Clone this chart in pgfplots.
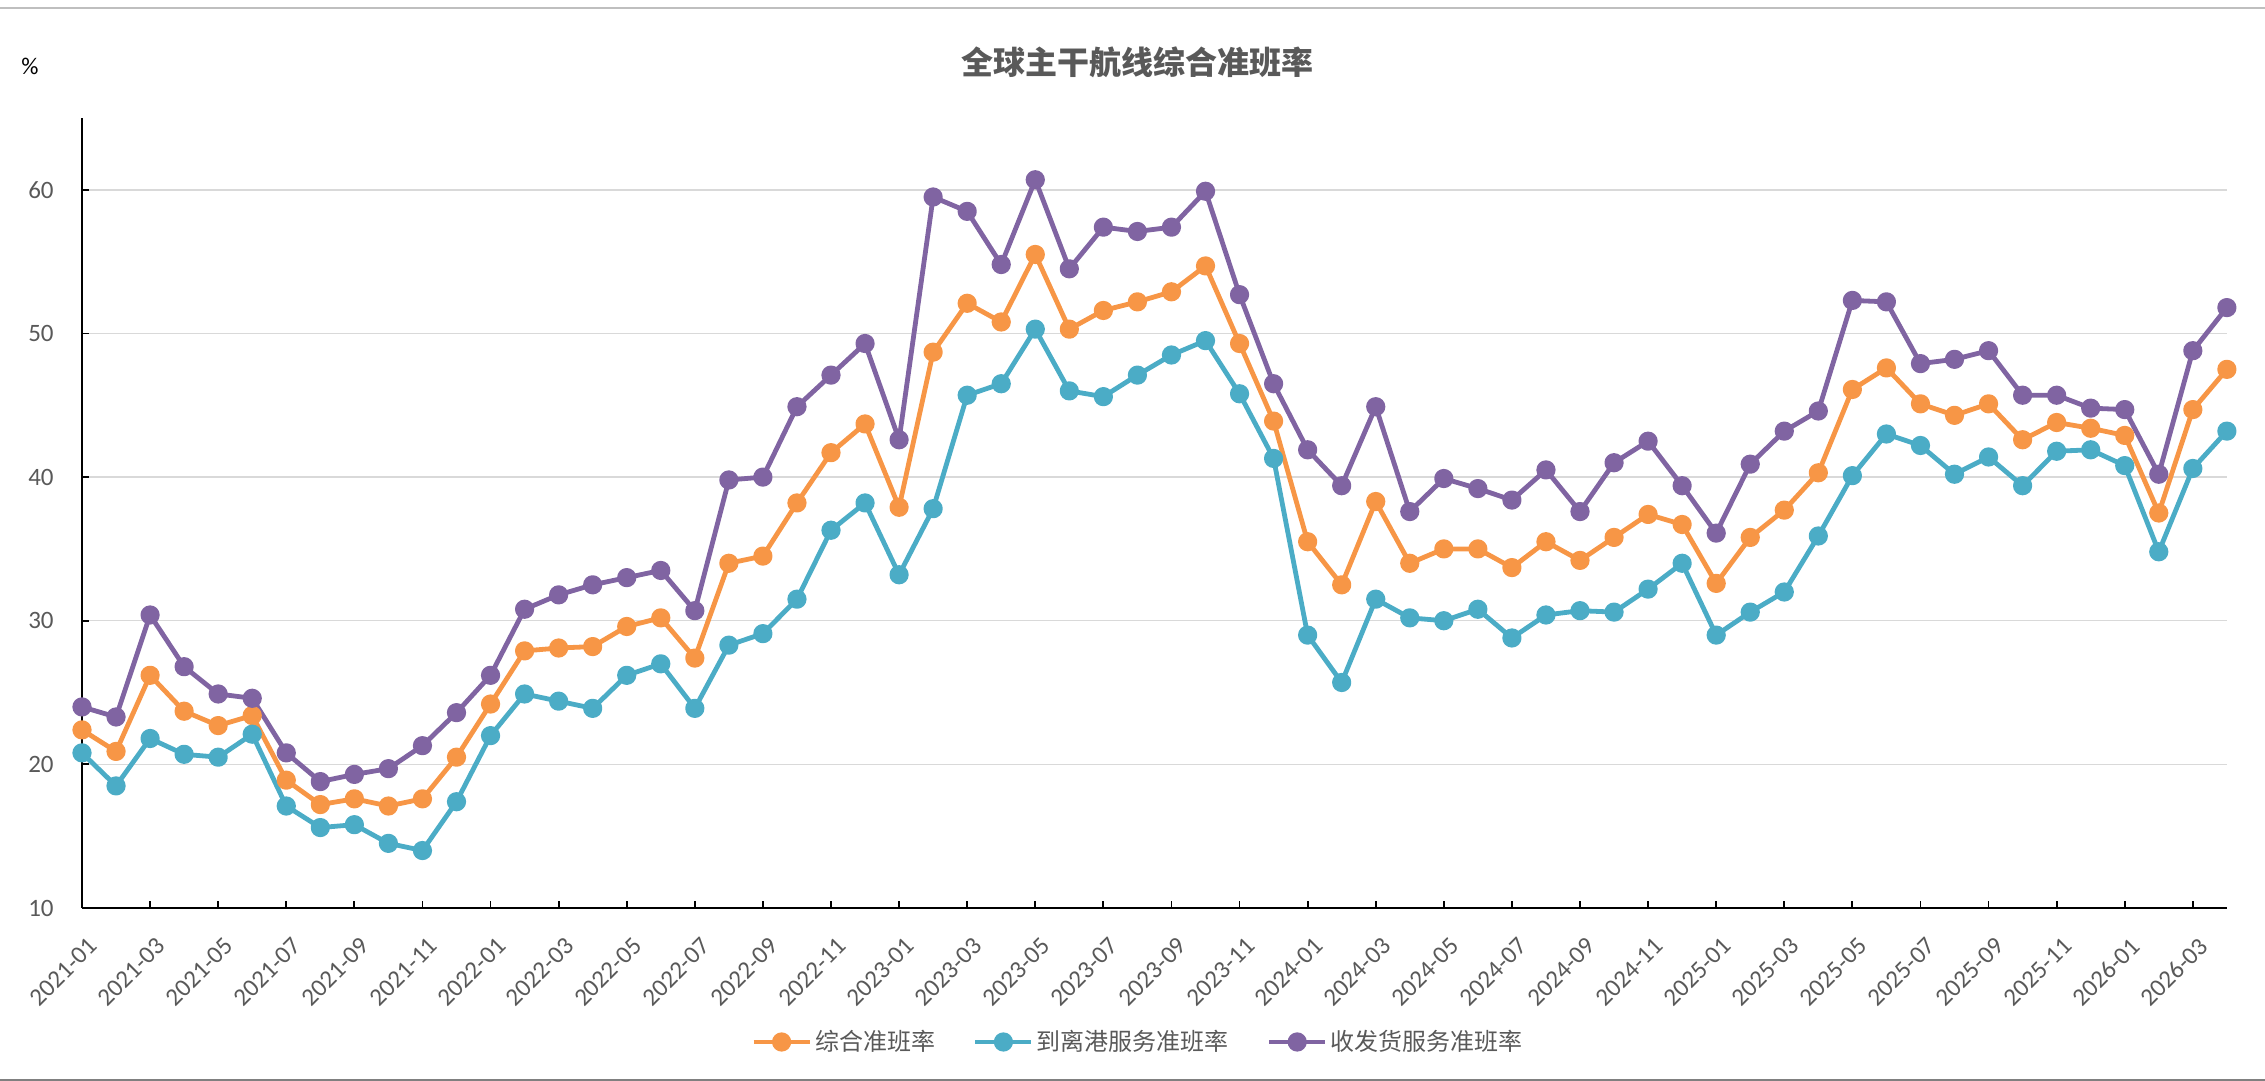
\documentclass[border=0pt]{standalone}
\usepackage{fontspec}
\setmainfont{Carlito}
\newfontfamily\cjk{Noto Sans CJK SC}
\usepackage{pgfplots}
\pgfplotsset{compat=1.18}
\usepackage{pgfplotstable}
\definecolor{cO}{HTML}{F79646}
\definecolor{cB}{HTML}{4BACC6}
\definecolor{cP}{HTML}{8064A2}
\definecolor{tgray}{HTML}{595959}
\definecolor{ggray}{HTML}{D9D9D9}

\pgfplotstableread{
i a b c
0 22.4 20.8 24.0
1 20.9 18.5 23.3
2 26.2 21.8 30.4
3 23.7 20.7 26.8
4 22.7 20.5 24.9
5 23.4 22.1 24.6
6 18.9 17.1 20.8
7 17.2 15.6 18.8
8 17.6 15.8 19.3
9 17.1 14.5 19.7
10 17.6 14.0 21.3
11 20.5 17.4 23.6
12 24.2 22.0 26.2
13 27.9 24.9 30.8
14 28.1 24.4 31.8
15 28.2 23.9 32.5
16 29.6 26.2 33.0
17 30.2 27.0 33.5
18 27.4 23.9 30.7
19 34.0 28.3 39.8
20 34.5 29.1 40.0
21 38.2 31.5 44.9
22 41.7 36.3 47.1
23 43.7 38.2 49.3
24 37.9 33.2 42.6
25 48.7 37.8 59.5
26 52.1 45.7 58.5
27 50.8 46.5 54.8
28 55.5 50.3 60.7
29 50.3 46.0 54.5
30 51.6 45.6 57.4
31 52.2 47.1 57.1
32 52.9 48.5 57.4
33 54.7 49.5 59.9
34 49.3 45.8 52.7
35 43.9 41.3 46.5
36 35.5 29.0 41.9
37 32.5 25.7 39.4
38 38.3 31.5 44.9
39 34.0 30.2 37.6
40 35.0 30.0 39.9
41 35.0 30.8 39.2
42 33.7 28.8 38.4
43 35.5 30.4 40.5
44 34.2 30.7 37.6
45 35.8 30.6 41.0
46 37.4 32.2 42.5
47 36.7 34.0 39.4
48 32.6 29.0 36.1
49 35.8 30.6 40.9
50 37.7 32.0 43.2
51 40.3 35.9 44.6
52 46.1 40.1 52.3
53 47.6 43.0 52.2
54 45.1 42.2 47.9
55 44.3 40.2 48.2
56 45.1 41.4 48.8
57 42.6 39.4 45.7
58 43.8 41.8 45.7
59 43.4 41.9 44.8
60 42.9 40.8 44.7
61 37.5 34.8 40.2
62 44.7 40.6 48.8
63 47.5 43.2 51.8
}\datatable

\begin{document}
\begin{tikzpicture}
\useasboundingbox (0,0) rectangle (1132.5pt,540.5pt);
\draw[color=gray!50, line width=1pt] (0,536.5pt) -- (1132.5pt,536.5pt);
\draw[color=gray, line width=1pt] (0,0.6pt) -- (1132.5pt,0.6pt);
\node[font=\cjk\bfseries\fontsize{16}{18}\selectfont, text=tgray] at (568.5pt,509.5pt) {全球主干航线综合准班率};
\node[font=\fontsize{12}{14}\selectfont, text=black] at (15pt,507.5pt) {\%};
\begin{axis}[
  at={(41pt,86.5pt)}, anchor=south west,
  scale only axis, width=1072.5pt, height=395pt,
  xmin=0, xmax=63, ymin=10, ymax=65,
  axis lines*=left,
  axis line style={black, line width=0.9pt, -},
  tick align=inside,
  major tick length=3.5pt,
  tick style={black, line width=0.9pt},
  ytick={10,20,...,60},
  xtick={0,2,...,62},
  xticklabels={2021-01,2021-03,2021-05,2021-07,2021-09,2021-11,
    2022-01,2022-03,2022-05,2022-07,2022-09,2022-11,
    2023-01,2023-03,2023-05,2023-07,2023-09,2023-11,
    2024-01,2024-03,2024-05,2024-07,2024-09,2024-11,
    2025-01,2025-03,2025-05,2025-07,2025-09,2025-11,
    2026-01,2026-03},
  /pgf/number format/assume math mode=true,
  ymajorgrids,
  grid style={color=ggray, line width=0.7pt},
  tick label style={font=\fontsize{12.5}{14}\selectfont, text=tgray},
  yticklabel style={inner sep=0pt, anchor=east, xshift=-14pt},
  xticklabel style={inner sep=0pt, xshift=2.5pt, yshift=-14pt, rotate=45, anchor=north east},
  legend style={at={(0.4923,-0.1696)}, anchor=center, draw=none, fill=none,
    inner sep=0pt,
    nodes={inner xsep=1pt, inner ysep=2pt},
    font=\cjk\fontsize{12}{14}\selectfont, text=tgray,
    /tikz/every odd column/.append style={column sep=0.5pt},
    /tikz/every even column/.append style={column sep=18pt}},
  legend columns=-1,
  legend image code/.code={\draw[mark repeat=2, mark phase=2, #1] plot coordinates {(0pt,0pt) (14pt,0pt) (28pt,0pt)};},
  every axis plot/.append style={line width=2.4pt, line join=round, mark=*, mark size=3.6pt, mark options={solid, line width=0.5pt}},
]
\addplot[color=cO, mark options={fill=cO}] table[x=i, y=a] {\datatable};
\addlegendentry{综合准班率}
\addplot[color=cB, mark options={fill=cB}] table[x=i, y=b] {\datatable};
\addlegendentry{到离港服务准班率}
\addplot[color=cP, mark options={fill=cP}] table[x=i, y=c] {\datatable};
\addlegendentry{收发货服务准班率}
\end{axis}
\end{tikzpicture}
\end{document}
